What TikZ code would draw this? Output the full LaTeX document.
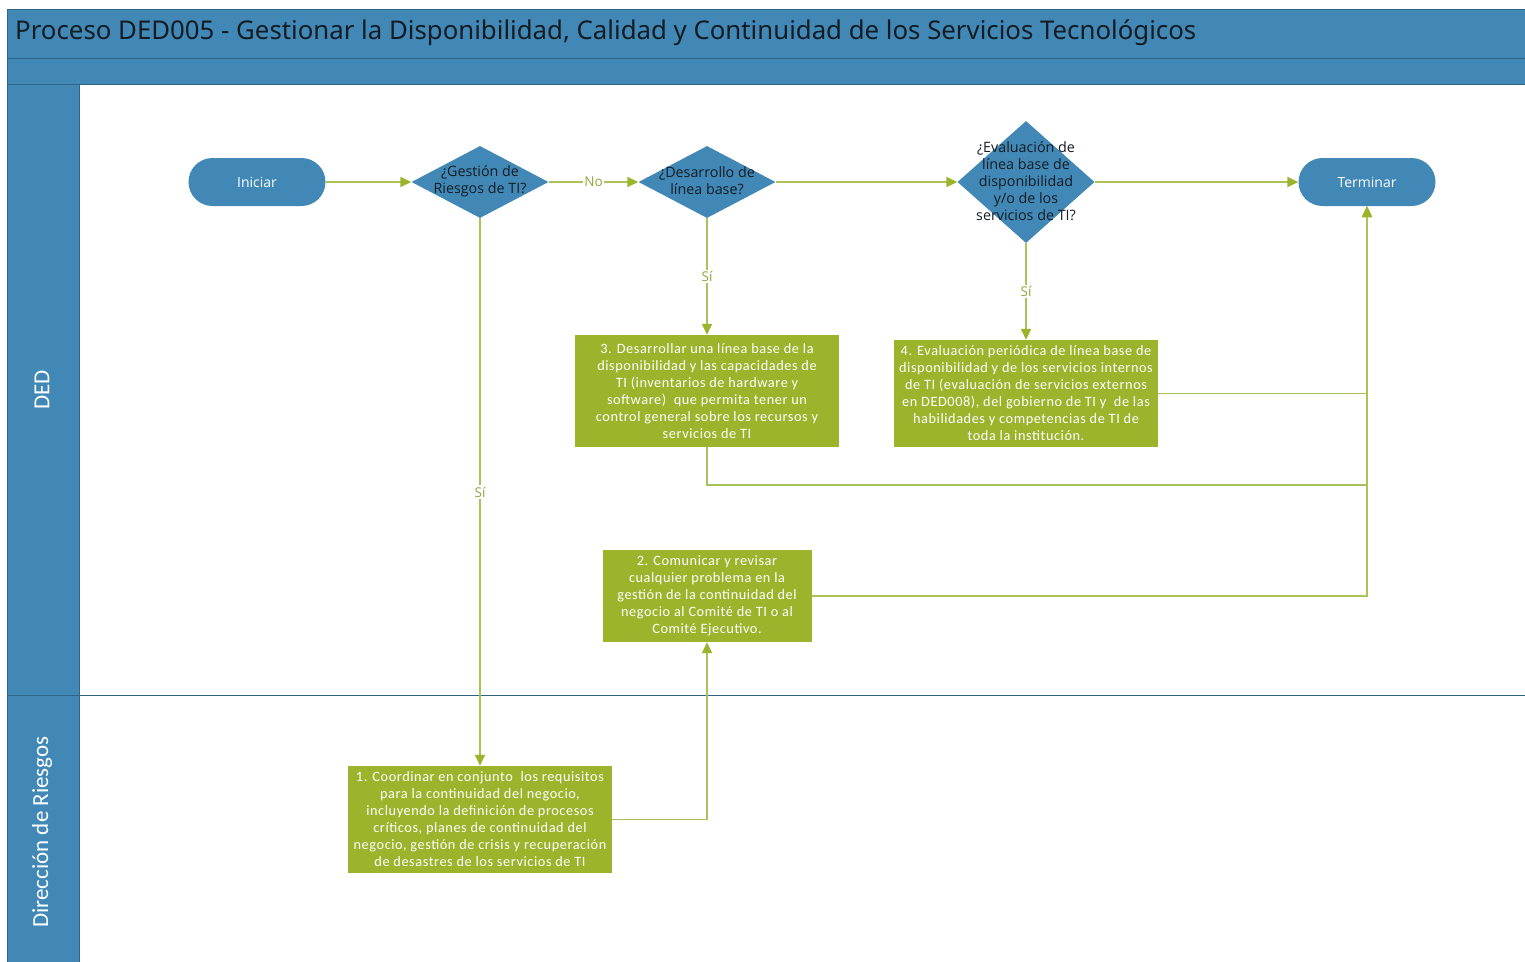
\documentclass[tikz,border=0pt]{standalone}
\usepackage{fontspec}
\setmainfont{Carlito}
\newfontfamily\titlefont{Noto Sans}
\newfontfamily\shapefont{Open Sans}
\newfontfamily\boxfont[LetterSpace=4]{Carlito}
\usetikzlibrary{shapes.geometric,arrows.meta}
\definecolor{laneblue}{HTML}{4188B6}
\definecolor{laneedge}{HTML}{2F6587}
\definecolor{boxgreen}{HTML}{9BB42C}
\definecolor{linegreen}{HTML}{A9C25A}
\definecolor{lblgreen}{HTML}{8FA83A}
\definecolor{darktext}{HTML}{141C22}

\begin{document}
\begin{tikzpicture}[x=1pt,y=-1pt,
  flow/.style={draw=linegreen, line width=1.5pt,
    -{Triangle[length=11pt,width=10pt,color=boxgreen]}},
  lbl/.style={fill=white, text=lblgreen, inner sep=1.5pt,
    font=\shapefont\fontsize{13.5}{15}\selectfont},
  term/.style={fill=laneblue, draw=none, rounded corners=24pt,
    minimum width=137pt, minimum height=48pt, text=white,
    font=\shapefont\fontsize{14}{16}\selectfont},
  dec/.style={diamond, fill=laneblue, draw=none, inner sep=0pt,
    minimum width=137pt},
  dectext/.style={align=center, text=darktext,
    font=\shapefont\fontsize{14.3}{17}\selectfont},
  task/.style={fill=boxgreen, draw=none, align=center, text=white,
    inner sep=2pt, font=\boxfont\fontsize{14.3}{17}\selectfont},
  lanelabel/.style={rotate=90, text=white, font=\fontsize{23}{26}\selectfont}]

\useasboundingbox (0,0) rectangle (1525,961);
\fill[white] (0,0) rectangle (1525,961);

% pool header bands
\filldraw[fill=laneblue, draw=laneedge, line width=1pt] (7,9) rectangle (1535,58);
\filldraw[fill=laneblue, draw=laneedge, line width=1pt] (7,58) rectangle (1535,84);
\node[anchor=west, text=darktext, inner sep=0pt,
  font=\titlefont\fontsize{25.8}{30}\selectfont] (title) at (15,33)
  {Proceso DED005 - Gestionar la Disponibilidad, Calidad y Continuidad de los Servicios Tecnológicos};

% swimlane headers
\filldraw[fill=laneblue, draw=laneedge, line width=1pt] (7,84) rectangle (79,970);
\draw[laneedge, line width=0.8pt] (7,695) -- (1535,695);
\node[lanelabel] (laneDED) at (42,390) {DED};
\node[lanelabel] (laneDR) at (42,832) {Dirección de Riesgos};

% start / end
\node[term] (ini) at (257,182) {Iniciar};
\node[term] (fin) at (1367,182) {Terminar};

% decisions
\node[dec, minimum height=72pt] (d1) at (480,182) {};
\node[dectext] (d1t) at (480,181) {¿Gestión de\\Riesgos de TI?};
\node[dec, minimum height=72pt] (d2) at (707,182) {};
\node[dectext] (d2t) at (707,181) {¿Desarrollo de\\línea base?};
\node[dec, minimum height=122pt] (d3) at (1026,182) {};
\node[dectext] (d3t) at (1026,181) {¿Evaluación de\\línea base de\\disponibilidad\\y/o de los\\servicios de TI?};

% tasks
\node[task, minimum width=264pt, minimum height=112pt] (t3) at (707,391)
  {3. Desarrollar una línea base de la\\disponibilidad y las capacidades de\\TI (inventarios de hardware y\\software) \ que permita tener un\\control general sobre los recursos y\\servicios de TI};
\node[task, minimum width=264pt, minimum height=107pt] (t4) at (1026,393.5)
  {4. Evaluación periódica de línea base de\\disponibilidad y de los servicios internos\\de TI (evaluación de servicios externos\\en DED008), del gobierno de TI y \ de las\\habilidades y competencias de TI de\\toda la institución.};
\node[task, minimum width=209pt, minimum height=92pt] (t2) at (707,596)
  {2. Comunicar y revisar\\cualquier problema en la\\gestión de la continuidad del\\negocio al Comité de TI o al\\Comité Ejecutivo.};
\node[task, minimum width=264pt, minimum height=107pt] (t1) at (480,819.5)
  {1. Coordinar en conjunto \ los requisitos\\para la continuidad del negocio,\\incluyendo la definición de procesos\\críticos, planes de continuidad del\\negocio, gestión de crisis y recuperación\\de desastres de los servicios de TI};

% connectors
\coordinate (j3) at (1367,485);
\draw[flow] (ini) -- (d1);
\draw[flow] (d1) -- node[lbl] {No} (d2);
\draw[flow] (d2) -- (d3);
\draw[flow] (d3) -- (fin);
\draw[flow] (d2) -- node[lbl] {Sí} (t3);
\draw[flow] (d3) -- node[lbl] {Sí} (t4);
\draw[flow] (d1) -- node[lbl] {Sí} (t1);
\draw[flow] (t3) |- (j3) -- (fin);
\draw[flow] (t4) -| (fin);
\draw[flow] (t2) -| (fin);
\draw[flow] (t1) -| (t2);
\end{tikzpicture}
\end{document}
